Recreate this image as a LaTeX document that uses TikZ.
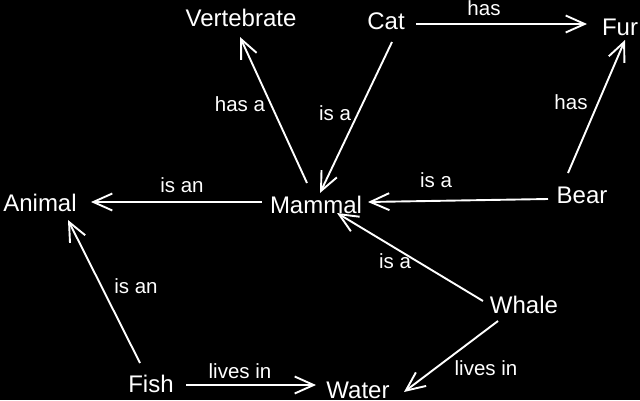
\documentclass[tikz,border=0pt]{standalone}
\usepackage{fontspec}
\setmainfont{Liberation Sans}
\usetikzlibrary{arrows.meta}
\tikzset{
  concept/.style={text=white, font=\fontsize{24}{28}\selectfont, inner sep=0pt, anchor=base},
  rel/.style={text=white, font=\fontsize{20.5}{24}\selectfont, inner sep=0pt, anchor=base},
  link/.style={draw=white, line width=1.9pt, -{Straight Barb[length=19pt,width=17pt,line width=1.9pt]}}
}
\begin{document}
\begin{tikzpicture}[x=1pt,y=-1pt]
\fill[black] (0,0) rectangle (640,400);
\useasboundingbox (0,0) rectangle (640,400);
% concepts
\node[concept] (Vertebrate) at (241,26) {Vertebrate};
\node[concept] (Cat) at (386,29) {Cat};
\node[concept] (Fur) at (620,35) {Fur};
\node[concept] (Animal) at (40,211) {Animal};
\node[concept] (Mammal) at (316,213) {Mammal};
\node[concept] (Bear) at (582,203) {Bear};
\node[concept] (Whale) at (524,313) {Whale};
\node[concept] (Fish) at (151,392) {Fish};
\node[concept] (Water) at (358,398) {Water};
% relations
\draw[link] ([shift={(-9,-30)}]Mammal.base) -- ([shift={(-1,11)}]Vertebrate.base);
\draw[link] ([shift={(6,13)}]Cat.base) -- ([shift={(4,-20)}]Mammal.base);
\draw[link] ([shift={(30,-5)}]Cat.base) -- ([shift={(-33,-11)}]Fur.base);
\draw[link] ([shift={(-14,-30)}]Bear.base) -- ([shift={(5,5)}]Fur.base);
\draw[link] ([shift={(-34,-4)}]Bear.base) -- ([shift={(52,-11)}]Mammal.base);
\draw[link] ([shift={(-54,-11)}]Mammal.base) -- ([shift={(51,-9)}]Animal.base);
\draw[link] ([shift={(-41,-12)}]Whale.base) -- ([shift={(21,0)}]Mammal.base);
\draw[link] ([shift={(-26,8)}]Whale.base) -- ([shift={(46,-6)}]Water.base);
\draw[link] ([shift={(35,-7)}]Fish.base) -- ([shift={(-42,-13)}]Water.base);
\draw[link] ([shift={(-11,-29)}]Fish.base) -- ([shift={(28,9)}]Animal.base);
% labels
\node[rel] (lHasA) at (240,111) {has a};
\node[rel] (lCatIsA) at (335,120) {is a};
\node[rel] (lCatHas) at (484,15) {has};
\node[rel] (lBearHas) at (571,109) {has};
\node[rel] (lBearIsA) at (436,187) {is a};
\node[rel] (lMammalIsAn) at (182,192) {is an};
\node[rel] (lFishIsAn) at (136,293) {is an};
\node[rel] (lWhaleIsA) at (395,268) {is a};
\node[rel] (lFishLives) at (240,378) {lives in};
\node[rel] (lWhaleLives) at (486,375) {lives in};
\end{tikzpicture}
\end{document}
